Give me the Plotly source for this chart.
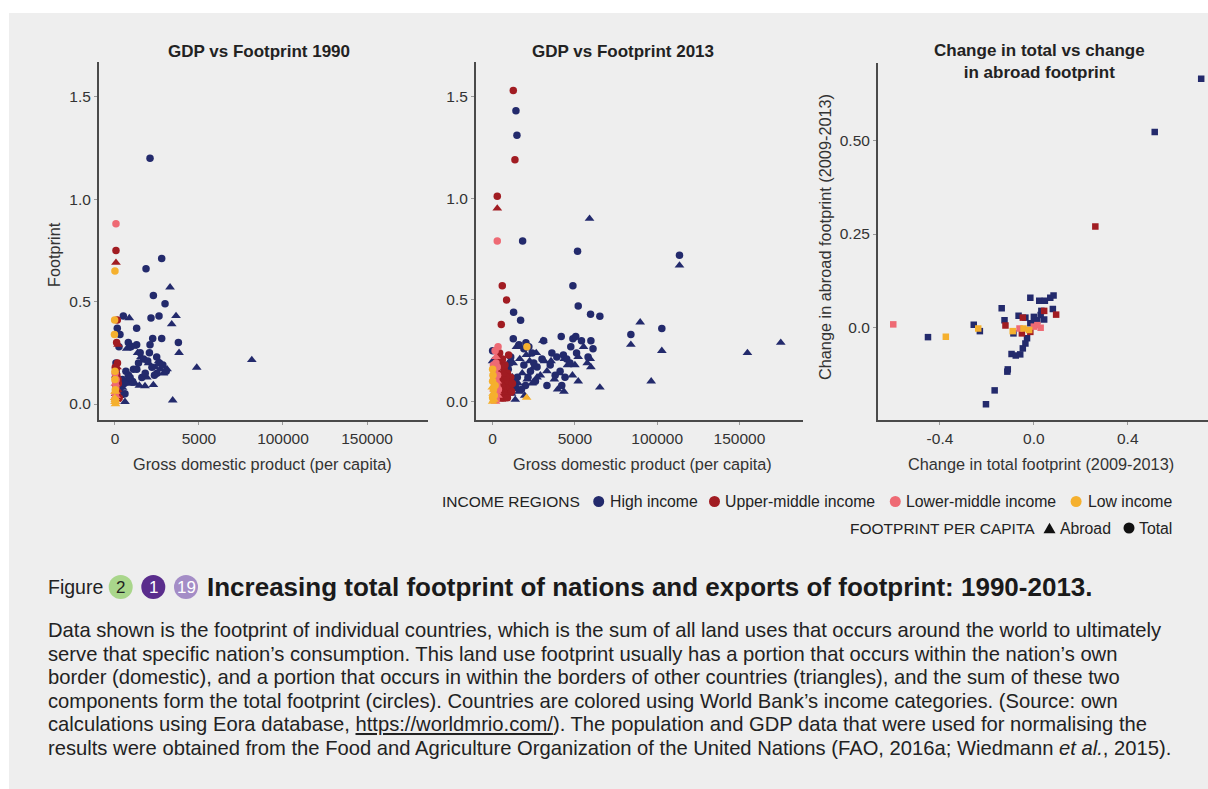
import plotly.graph_objects as go

# ---------------- DATA ----------------
income_names = ["High income", "Upper-middle income", "Lower-middle income", "Low income"]
income_colors = ["#232a6c", "#a11c22", "#ee6a74", "#f5b02e"]

# Panel 1: GDP vs Footprint 1990  (GDP per capita, footprint)
gdp1990_high_total = [20860, 18475, 27810, 22850, 29800, 26220, 21450, 4970, 12900, 1390, 2980, 22450, 27810, 37750,
                      20860, 2380, 7950, 12900, 9500, 15000, 17000, 19500, 24830, 26500, 22000, 28500, 11000, 6500,
                      8000, 13000, 4500, 600, 3500, 5960, 7500, 10500, 16000, 30500, 25000, 18000, 1500, 800,
                      14000, 20500, 23500, 5500, 9000, 3000]
fp1990_high_total = [1.20, 0.66, 0.71, 0.53, 0.49, 0.43, 0.42, 0.43, 0.37, 0.37, 0.34, 0.32, 0.32, 0.30,
                     0.29, 0.28, 0.30, 0.29, 0.28, 0.25, 0.22, 0.21, 0.23, 0.20, 0.18, 0.19, 0.17, 0.16,
                     0.14, 0.17, 0.12, 0.20, 0.10, 0.05, 0.11, 0.11, 0.13, 0.16, 0.15, 0.15, 0.09, 0.15,
                     0.20, 0.25, 0.14, 0.10, 0.13, 0.07]
gdp1990_high_abroad = [32780, 33770, 36350, 38140, 8540, 81450, 48670, 34370, 28800, 22850, 17880, 5960, 7000, 10500,
                       13500, 15500, 20000, 24000, 27000, 31000, 12000, 9000, 4500, 3000, 600, 2000, 14500, 19000, 26000]
fp1990_high_abroad = [0.57, 0.39, 0.43, 0.25, 0.42, 0.215, 0.178, 0.018, 0.15, 0.093, 0.088, 0.011, 0.27, 0.28,
                      0.25, 0.23, 0.20, 0.18, 0.17, 0.17, 0.10, 0.10, 0.08, 0.04, 0.14, 0.06, 0.09, 0.13, 0.21]
gdp1990_upper_total = [600, 1390, 1000, 1500, 800, 1800, 500, 1200, 2500, 300, 2000, 900, 200, 1100]
fp1990_upper_total = [0.75, 0.41, 0.30, 0.20, 0.17, 0.12, 0.09, 0.06, 0.03, 0.13, 0.10, 0.04, 0.18, 0.14]
gdp1990_upper_abroad = [600, 1800, 1200, 700, 1500, 2200, 400, 1000]
fp1990_upper_abroad = [0.69, 0.29, 0.18, 0.10, 0.07, 0.04, 0.05, 0.02]
gdp1990_lower_total = [600, 100, 300, 500, 200, 700, 100]
fp1990_lower_total = [0.88, 0.15, 0.11, 0.08, 0.05, 0.12, 0.02]
gdp1990_lower_abroad = [200, 400, 100, 600, 300]
fp1990_lower_abroad = [0.10, 0.06, 0.03, 0.04, 0.01]
gdp1990_low_total = [0, -200, -300, 0, 200, 100, 0]
fp1990_low_total = [0.65, 0.41, 0.34, 0.16, 0.07, 0.02, 0.12]
gdp1990_low_abroad = [0, 200, 300, -100, 100]
fp1990_low_abroad = [0.06, 0.02, 0.00, 0.03, 0.01]

# Panel 2: GDP vs Footprint 2013
gdp2013_high_total = [14170, 14780, 18220, 51610, 48780, 52020, 59510, 65170, 12750, 17000, 113550, 84000, 102820,
                      59710, 41690, 48780, 50500, 12550, 20240, 0, 16000, 22000, 24000, 39000, 43000, 45000, 51000,
                      58000, 27000, 23000, 19000, 15000, 13000, 20000, 35000, 41000, 47000, 11000, 25000, 31000,
                      9500, 17500, 38000, 10500, 14000, 21500, 26000, 33000, 44000, 30000, 36000, 47500, 54000,
                      61000, 19000, 42000]
fp2013_high_total = [1.43, 1.31, 0.79, 0.74, 0.57, 0.47, 0.43, 0.42, 0.44, 0.40, 0.72, 0.33, 0.36,
                     0.30, 0.32, 0.31, 0.32, 0.31, 0.29, 0.25, 0.28, 0.27, 0.24, 0.22, 0.23, 0.21, 0.24,
                     0.22, 0.17, 0.15, 0.18, 0.12, 0.10, 0.08, 0.18, 0.15, 0.19, 0.22, 0.19, 0.30,
                     0.16, 0.06, 0.13, 0.19, 0.07, 0.12, 0.10, 0.08, 0.12, 0.21, 0.24, 0.27, 0.30,
                     0.26, 0.26, 0.08]
gdp2013_high_abroad = [58900, 113550, 89660, 84000, 102820, 154840, 175080, 96350, 65170, 43310, 52020, 55260,
                       59300, 59710, 30560, 0, 13760, 14500, 16500, 20500, 22500, 25000, 29000, 33000, 37500,
                       40500, 45500, 50000, 52000, 18000, 21000, 24000, 12000, 16000, 11500, 27000, 35500,
                       12500, 26500, 31500, 43500, 57500, 15500, 39500, 48500, 19500]
fp2013_high_abroad = [0.90, 0.67, 0.39, 0.28, 0.25, 0.24, 0.29, 0.10, 0.07, 0.05, 0.10, 0.27,
                      0.21, 0.17, 0.30, 0.20, 0.01, 0.27, 0.21, 0.23, 0.20, 0.17, 0.13, 0.15, 0.11,
                      0.14, 0.18, 0.18, 0.22, 0.14, 0.11, 0.09, 0.12, 0.05, 0.04, 0.12, 0.20,
                      0.19, 0.24, 0.20, 0.21, 0.19, 0.09, 0.06, 0.13, 0.03]
gdp2013_upper_total = [12550, 13560, 2830, 5870, 8500, 5260, 9720, 4250, 5500, 3500, 7000, 9000, 4500, 6500,
                       8000, 3000, 10500, 5000, 7500, 2500, 6000, 11000, 4000, 9500, 1500, 2000, 3500, 4500,
                       8500, 11500, 6500, 2500, 5500, 7500, 9000, 12000, 3000, 6000, 1000]
fp2013_upper_total = [1.53, 1.19, 1.01, 0.57, 0.50, 0.38, 0.23, 0.24, 0.20, 0.17, 0.16, 0.14, 0.12, 0.11,
                      0.08, 0.09, 0.07, 0.05, 0.03, 0.04, 0.02, 0.12, 0.06, 0.10, 0.15, 0.10, 0.03, 0.19,
                      0.12, 0.05, 0.14, 0.13, 0.08, 0.18, 0.02, 0.09, 0.21, 0.21, 0.07]
gdp2013_upper_abroad = [2830, 5000, 7500, 4000, 6000, 8500, 3500, 10000, 5500, 7000, 2800, 4500, 9000, 6500,
                        3000, 11500, 8000]
fp2013_upper_abroad = [0.95, 0.18, 0.13, 0.14, 0.09, 0.05, 0.07, 0.04, 0.01, 0.06, 0.11, 0.10, 0.09, 0.03,
                       0.02, 0.10, 0.15]
gdp2013_lower_total = [2830, 3300, 1500, 2000, 1000, 3000, 2500, 1500, 500, 3500, 2200, 500, 1800, 2800, 700]
fp2013_lower_total = [0.79, 0.27, 0.25, 0.19, 0.15, 0.13, 0.08, 0.04, 0.10, 0.06, 0.01, 0.18, 0.11, 0.17, 0.03]
gdp2013_lower_abroad = [2000, 1200, 2800, 800, 3200, 1800, 2500]
fp2013_lower_abroad = [0.22, 0.12, 0.10, 0.06, 0.03, 0.00, 0.05]
gdp2013_low_total = [0, 20850, 0, 500, 0, 1000, 200, 1500]
fp2013_low_total = [0.16, 0.27, 0.10, 0.06, 0.02, 0.03, 0.13, 0.08]
gdp2013_low_abroad = [20650, 0, 800, 300, -200]
fp2013_low_abroad = [0.02, 0.00, 0.01, 0.04, 0.07]

# Panel 3: change in total vs change in abroad footprint (2009-2013)
dtotal_high = [0.713, 0.515, -0.451, -0.256, -0.230, -0.137, -0.125, -0.015, 0.023, 0.047, 0.070, 0.084, 0.081,
               0.032, -0.065, -0.036, 0.000, 0.015, -0.015, -0.087, -0.029, -0.036, -0.047, -0.058, -0.095,
               -0.077, -0.111, -0.113, -0.167, -0.204, 0.044, 0.029, 0.006]
dabroad_high = [0.664, 0.522, -0.025, 0.008, -0.009, 0.052, 0.020, 0.080, 0.072, 0.072, 0.080, 0.086, 0.050,
                0.045, 0.032, 0.027, 0.029, 0.020, 0.012, -0.015, -0.028, -0.042, -0.055, -0.071, -0.070,
                -0.074, -0.111, -0.117, -0.167, -0.204, 0.022, 0.034, 0.016]
dtotal_upper = [0.262, 0.095, -0.121, -0.047, 0.044, -0.051, -0.015]
dabroad_upper = [0.270, 0.035, 0.006, 0.027, 0.045, -0.015, -0.011]
dtotal_lower = [-0.599, 0.029, 0.000, -0.061, 0.015]
dabroad_lower = [0.009, 0.000, 0.003, -0.002, 0.007]
dtotal_low = [-0.375, -0.237, -0.090, -0.044, -0.020]
dabroad_low = [-0.024, -0.002, -0.009, -0.002, -0.006]

x_ticks_gdp = [0, 50000, 100000, 150000]
x_ticktext_gdp = ["0", "5000", "100000", "150000"]
y_ticks_fp = [0, 0.5, 1.0, 1.5]
y_ticktext_fp = ["0.0", "0.5", "1.0", "1.5"]
x_ticks_chg = [-0.4, 0, 0.4]
x_ticktext_chg = ["-0.4", "0.0", "0.4"]
y_ticks_chg = [0, 0.25, 0.5]
y_ticktext_chg = ["0.0", "0.25", "0.50"]

caption_lines = [
    "Data shown is the footprint of individual countries, which is the sum of all land uses that occurs around the world to ultimately",
    "serve that specific nation’s consumption. This land use footprint usually has a portion that occurs within the nation’s own",
    "border (domestic), and a portion that occurs in within the borders of other countries (triangles), and the sum of these two",
    "components form the total footprint (circles). Countries are colored using World Bank’s income categories. (Source: own",
    "calculations using Eora database, <span style='text-decoration:underline'>https://worldmrio.com/</span>). The population and GDP data that were used for normalising the",
    "results were obtained from the Food and Agriculture Organization of the United Nations (FAO, 2016a; Wiedmann <i>et al.</i>, 2015).",
]

# ---------------- FIGURE ----------------
W, H = 1208, 789
FONT = "Liberation Sans, Arial, Helvetica, sans-serif"


def fx(p):
    return p / W


def fy(p):
    return 1 - p / H


fig = go.Figure()

panel1 = [
    (gdp1990_high_total, fp1990_high_total, gdp1990_high_abroad, fp1990_high_abroad),
    (gdp1990_upper_total, fp1990_upper_total, gdp1990_upper_abroad, fp1990_upper_abroad),
    (gdp1990_lower_total, fp1990_lower_total, gdp1990_lower_abroad, fp1990_lower_abroad),
    (gdp1990_low_total, fp1990_low_total, gdp1990_low_abroad, fp1990_low_abroad),
]
panel2 = [
    (gdp2013_high_total, fp2013_high_total, gdp2013_high_abroad, fp2013_high_abroad),
    (gdp2013_upper_total, fp2013_upper_total, gdp2013_upper_abroad, fp2013_upper_abroad),
    (gdp2013_lower_total, fp2013_lower_total, gdp2013_lower_abroad, fp2013_lower_abroad),
    (gdp2013_low_total, fp2013_low_total, gdp2013_low_abroad, fp2013_low_abroad),
]
panel3 = [
    (dtotal_high, dabroad_high),
    (dtotal_upper, dabroad_upper),
    (dtotal_lower, dabroad_lower),
    (dtotal_low, dabroad_low),
]

for panel, (xa, ya) in ((panel1, ("x", "y")), (panel2, ("x2", "y2"))):
    for i, (tx, ty, ax, ay) in enumerate(panel):
        fig.add_trace(go.Scatter(x=ax, y=ay, mode="markers", xaxis=xa, yaxis=ya, showlegend=False,
                                 name=income_names[i] + " abroad", cliponaxis=False,
                                 marker=dict(symbol="triangle-up", size=8.5, color=income_colors[i],
                                             line=dict(width=0))))
        fig.add_trace(go.Scatter(x=tx, y=ty, mode="markers", xaxis=xa, yaxis=ya, showlegend=False,
                                 name=income_names[i] + " total", cliponaxis=False,
                                 marker=dict(symbol="circle", size=7.5, color=income_colors[i], line=dict(width=0))))

for i, (dx, dy) in enumerate(panel3):
    fig.add_trace(go.Scatter(x=dx, y=dy, mode="markers", xaxis="x3", yaxis="y3", showlegend=False,
                             name=income_names[i], cliponaxis=False,
                             marker=dict(symbol="square", size=6.5, color=income_colors[i], line=dict(width=0))))

axis_common = dict(showgrid=False, zeroline=False, showline=True, linecolor="#4a4a4a", linewidth=2,
                   ticks="outside", ticklen=3, tickcolor="#9a9a9a", tickwidth=1,
                   tickfont=dict(family=FONT, size=15.5, color="#333333"), fixedrange=True)

top_px, bot_px = 62, 420
fig.update_layout(
    width=W, height=H,
    margin=dict(l=0, r=0, t=0, b=0),
    paper_bgcolor="white",
    plot_bgcolor="rgba(0,0,0,0)",
    font=dict(family=FONT, color="#222222"),
    showlegend=False,
    xaxis=dict(domain=[fx(99), fx(428)], range=[-9500, 186300], tickvals=x_ticks_gdp, ticktext=x_ticktext_gdp,
               anchor="y", **axis_common),
    yaxis=dict(domain=[fy(bot_px), fy(top_px)], range=[-0.078, 1.67], tickvals=y_ticks_fp, ticktext=y_ticktext_fp,
               anchor="x", **axis_common),
    xaxis2=dict(domain=[fx(476), fx(803)], range=[-10100, 188600], tickvals=x_ticks_gdp, ticktext=x_ticktext_gdp,
                anchor="y2", **axis_common),
    yaxis2=dict(domain=[fy(bot_px), fy(top_px)], range=[-0.09, 1.67], tickvals=y_ticks_fp, ticktext=y_ticktext_fp,
                anchor="x2", **axis_common),
    xaxis3=dict(domain=[fx(878), 1.0], range=[-0.664, 0.742], tickvals=x_ticks_chg, ticktext=x_ticktext_chg,
                anchor="y3", **axis_common),
    yaxis3=dict(domain=[fy(bot_px), fy(63)], range=[-0.246, 0.706], tickvals=y_ticks_chg, ticktext=y_ticktext_chg,
                anchor="x3", **axis_common),
)

shapes = [
    dict(type="rect", xref="paper", yref="paper", x0=fx(9), x1=1.0, y0=0, y1=fy(13),
         fillcolor="#eeeeee", line=dict(width=0), layer="below"),
]
annotations = []


def ann(x, y, text, size, anchor="center", yanchor="middle", angle=0, color="#222222", align="center"):
    annotations.append(dict(x=fx(x), y=fy(y), xref="paper", yref="paper", text=text, showarrow=False,
                            xanchor=anchor, yanchor=yanchor, textangle=angle, align=align, borderpad=0,
                            font=dict(family=FONT, size=size, color=color)))


def dot(cx, cy, r, color):
    shapes.append(dict(type="circle", xref="paper", yref="paper", x0=fx(cx - r), x1=fx(cx + r),
                       y0=fy(cy + r), y1=fy(cy - r), fillcolor=color, line=dict(width=0), layer="above"))


def tri(cx, cy, s, color):
    h = s * 0.87
    path = (f"M {fx(cx - s / 2)},{fy(cy + h / 2)} L {fx(cx + s / 2)},{fy(cy + h / 2)} "
            f"L {fx(cx)},{fy(cy - h / 2)} Z")
    shapes.append(dict(type="path", xref="paper", yref="paper", path=path, fillcolor=color,
                       line=dict(width=0), layer="above"))


# subplot titles
ann(259, 51, "<b>GDP vs Footprint 1990</b>", 17)
ann(623, 51, "<b>GDP vs Footprint 2013</b>", 17)
ann(1039, 62, "<b>Change in total vs change<br>in abroad footprint</b>", 17)
# axis titles
ann(262, 464, "Gross domestic product (per capita)", 16.3, color="#333333")
ann(642, 464, "Gross domestic product (per capita)", 16.3, color="#333333")
ann(1041, 464, "Change in total footprint (2009-2013)", 16.3, color="#333333")
ann(54, 255, "Footprint", 16.3, angle=-90, color="#333333")
ann(825, 237, "Change in abroad footprint (2009-2013)", 16.3, angle=-90, color="#333333")

# legend row 1: income regions
L1 = 501.5
ann(441, L1, "INCOME REGIONS", 15.5, anchor="left")
leg_dot_x = [598.7, 714.5, 895.3, 1076.1]
leg_txt_x = [608.5, 724.2, 905.0, 1086.8]
for i in range(4):
    dot(leg_dot_x[i], L1, 5.5, income_colors[i])
    ann(leg_txt_x[i], L1, income_names[i], 15.8, anchor="left")
# legend row 2: footprint per capita
L2 = 528
ann(849, L2, "FOOTPRINT PER CAPITA", 15.5, anchor="left")
tri(1049.5, L2, 12, "#111111")
ann(1058.7, L2, "Abroad", 15.8, anchor="left")
dot(1129, L2, 5.5, "#111111")
ann(1137.7, L2, "Total", 15.8, anchor="left")

# caption heading with number badges
CY = 587
ann(47, CY, "Figure", 19.5, anchor="left")
badge_specs = [(120.7, "#a9d68b", "2", "#222222"), (153.3, "#5a2d8c", "1", "white"), (186.0, "#a48dc6", "19", "white")]
for cx, col, txt, tcol in badge_specs:
    dot(cx, CY, 12, col)
    ann(cx, CY + 0.5, txt, 17, color=tcol)
ann(206, CY, "<b>Increasing total footprint of nations and exports of footprint: 1990-2013.</b>", 26, anchor="left",
    color="#1a1a1a")

# caption body
for k, line in enumerate(caption_lines):
    ann(47, 630 + k * 23.6, line, 20.2, anchor="left", color="#222222")

fig.update_layout(shapes=shapes, annotations=annotations)

fig.write_html("out.html", config={"displayModeBar": False},
               post_script="document.body.style.margin='0';document.body.style.overflow='hidden';")
